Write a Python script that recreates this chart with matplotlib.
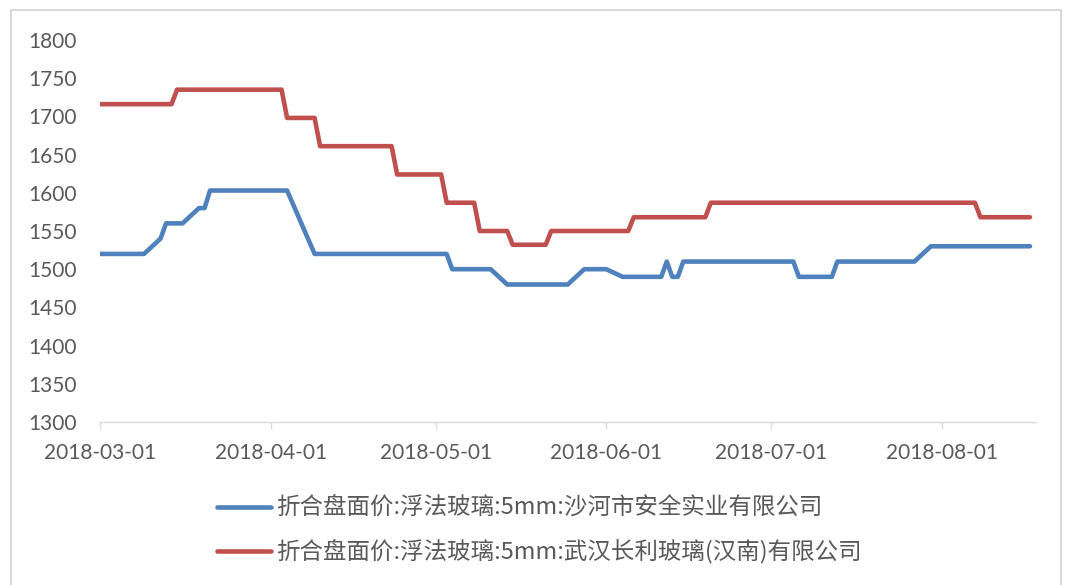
import matplotlib
matplotlib.use("Agg")
import matplotlib.pyplot as plt
from matplotlib.lines import Line2D
from matplotlib.patches import Rectangle
import pandas as pd

# ---- data (corner points of daily series) ----
blue_dates = ["2018-03-01", "2018-03-09", "2018-03-12", "2018-03-13", "2018-03-16",
              "2018-03-19", "2018-03-20", "2018-03-21", "2018-04-04", "2018-04-09",
              "2018-05-03", "2018-05-04", "2018-05-11", "2018-05-14", "2018-05-25",
              "2018-05-28", "2018-06-01", "2018-06-04", "2018-06-11", "2018-06-12",
              "2018-06-13", "2018-06-14", "2018-06-15", "2018-07-05", "2018-07-06",
              "2018-07-12", "2018-07-13", "2018-07-27", "2018-07-30", "2018-08-17"]
blue_values = [1520, 1520, 1540, 1560, 1560,
               1580, 1580, 1603, 1603, 1520,
               1520, 1500, 1500, 1480, 1480,
               1500, 1500, 1490, 1490, 1510,
               1490, 1490, 1510, 1510, 1490,
               1490, 1510, 1510, 1530, 1530]

red_dates = ["2018-03-01", "2018-03-14", "2018-03-15", "2018-04-03", "2018-04-04",
             "2018-04-09", "2018-04-10", "2018-04-23", "2018-04-24", "2018-05-02",
             "2018-05-03", "2018-05-08", "2018-05-09", "2018-05-14", "2018-05-15",
             "2018-05-21", "2018-05-22", "2018-06-05", "2018-06-06", "2018-06-19",
             "2018-06-20", "2018-08-07", "2018-08-08", "2018-08-17"]
red_values = [1716, 1716, 1735, 1735, 1698,
              1698, 1661, 1661, 1624, 1624,
              1587, 1587, 1550, 1550, 1532,
              1532, 1550, 1550, 1568, 1568,
              1587, 1587, 1568, 1568]

series_labels = ["折合盘面价:浮法玻璃:5mm:沙河市安全实业有限公司",
                 "折合盘面价:浮法玻璃:5mm:武汉长利玻璃(汉南)有限公司"]
x_ticks = ["2018-03-01", "2018-04-01", "2018-05-01", "2018-06-01", "2018-07-01", "2018-08-01"]
y_ticks = [1300, 1350, 1400, 1450, 1500, 1550, 1600, 1650, 1700, 1750, 1800]

# ---- style ----
W, H = 1072, 585
BLUE = "#4f81bd"
RED = "#c0504d"
TXT = "#595959"
plt.rcParams['font.family'] = ['Lato', 'Noto Sans CJK SC', 'DejaVu Sans']

fig = plt.figure(figsize=(W / 100, H / 100), dpi=100)
ax = fig.add_axes([100 / W, 1 - 422 / H, (1036 - 100) / W, (422 - 40) / H])

bd = pd.to_datetime(blue_dates)
rd = pd.to_datetime(red_dates)
l1, = ax.plot(bd, blue_values, color=BLUE, lw=3.3, solid_capstyle='round', solid_joinstyle='round')
l2, = ax.plot(rd, red_values, color=RED, lw=3.3, solid_capstyle='round', solid_joinstyle='round')

x0 = pd.Timestamp("2018-03-01")
ax.set_xlim(x0, x0 + pd.Timedelta(days=170.1))
ax.set_ylim(1300, 1800)

ax.set_yticks(y_ticks)
ax.set_yticklabels([str(v) for v in y_ticks])
ax.set_xticks(pd.to_datetime(x_ticks))
ax.set_xticklabels(x_ticks)

for s in ["top", "right", "left"]:
    ax.spines[s].set_visible(False)
ax.spines["bottom"].set_color("#d9d9d9")
ax.spines["bottom"].set_linewidth(1.0)
ax.tick_params(axis='y', length=0, pad=17, labelsize=15, labelcolor=TXT)
ax.tick_params(axis='x', length=5, width=1.0, color="#d9d9d9", direction='out',
               pad=10, labelsize=15, labelcolor=TXT)

# legend (manual, two rows)
rows_y = [507, 551]
for line, lab, yy in zip([l1, l2], series_labels, rows_y):
    fy = 1 - yy / H
    fig.add_artist(Line2D([217 / W, 271 / W], [fy, fy], transform=fig.transFigure,
                          color=line.get_color(), lw=3.3, solid_capstyle='round'))
    fig.text(276 / W, fy, lab, transform=fig.transFigure, va='center', ha='left',
             fontsize=16.9, color=TXT, family=['Noto Sans CJK SC', 'DejaVu Sans'])

# chart border
fig.add_artist(Rectangle((11 / W, -0.05), (1061 - 11) / W, 1.05 - 10 / H,
                         transform=fig.transFigure, fill=False,
                         edgecolor="#d9d9d9", lw=1.5))

fig.savefig("out.png", dpi=100, facecolor="white")
